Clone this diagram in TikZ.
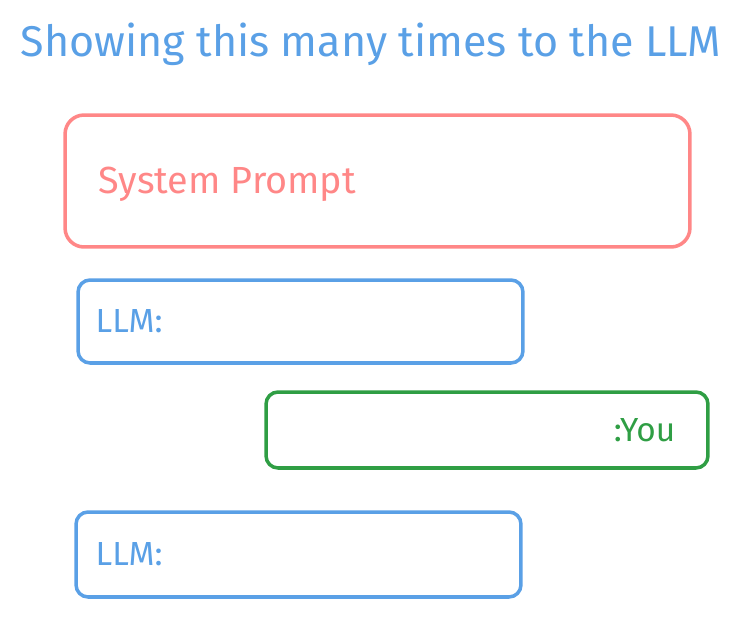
\documentclass[tikz,border=0pt]{standalone}
\usepackage{fontspec}
\setmainfont{Fira Sans}
\usetikzlibrary{positioning}

\definecolor{llmblue}{HTML}{5AA0E6}
\definecolor{promptred}{HTML}{FF8787}
\definecolor{yougreen}{HTML}{2F9E44}

\begin{document}
\begin{tikzpicture}[x=0.02cm, y=-0.02cm,
    box/.style={draw, line width=2pt, minimum width=#1},
    label/.style={inner sep=0pt, font=\fontsize{19}{23}\selectfont}]
    \useasboundingbox (0,0) rectangle (744,616);
    \node[text=llmblue, font=\fontsize{24.5}{29}\selectfont] (title) at (371,44) {Showing this many times to the LLM};
    \node[box=12.5cm, minimum height=2.64cm, rounded corners=0.38cm, draw=promptred] (prompt) at (377.5,181) {};
    \node[box=8.9cm, minimum height=1.66cm, rounded corners=0.24cm, draw=llmblue] (llmone) at (300.5,321.5) {};
    \node[box=8.84cm, minimum height=1.52cm, rounded corners=0.24cm, draw=yougreen] (you) at (487,430) {};
    \node[box=8.9cm, minimum height=1.7cm, rounded corners=0.24cm, draw=llmblue] (llmtwo) at (298.5,554.5) {};
    \node[label, text=promptred, font=\fontsize{21.5}{26}\selectfont, right=0.7cm of prompt.west, yshift=-0.06cm] (prompttext) {System Prompt};
    \node[label, text=llmblue, right=0.38cm of llmone.west] (llmonetext) {LLM:};
    \node[label, text=yougreen, left=0.68cm of you.east] (youtext) {:You};
    \node[label, text=llmblue, right=0.42cm of llmtwo.west] (llmtwotext) {LLM:};
\end{tikzpicture}
\end{document}
